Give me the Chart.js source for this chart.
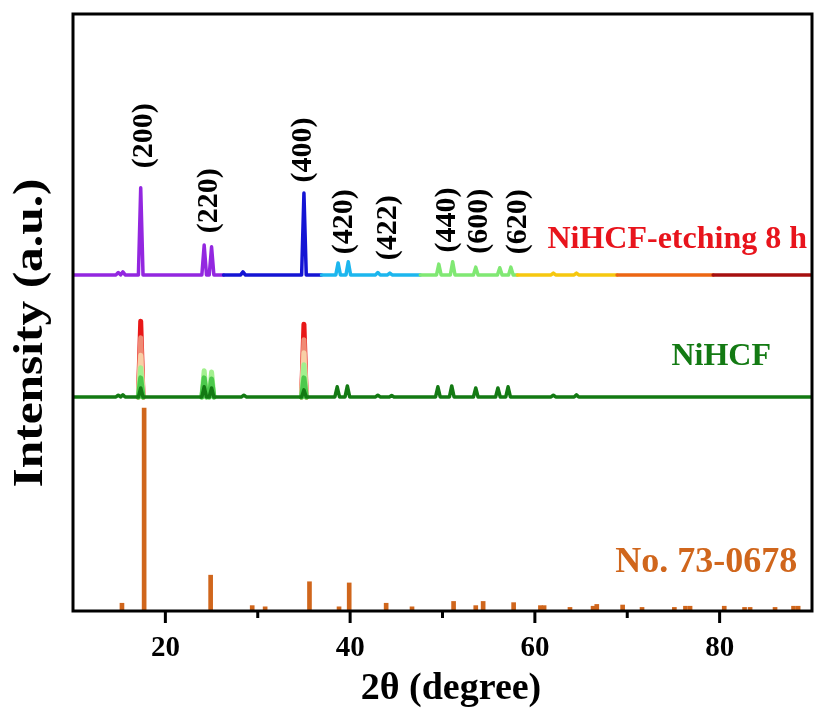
<!DOCTYPE html>
<html>
<head>
<meta charset="utf-8">
<script src="https://cdn.jsdelivr.net/npm/chart.js@4.4.1/dist/chart.umd.min.js"></script>
<style>
  html, body { margin: 0; padding: 0; background: #fff; }
  #wrap { width: 815px; height: 713px; }
</style>
</head>
<body>
<div id="wrap"><canvas id="xrd"></canvas></div>
<script>
// axis range + ticks
const xMin = 10, xMax = 90;
const xMajorTicks = [20, 40, 60, 80];
const xMinorTicks = [30, 50, 70];

// NiHCF-etching 8 h : peak 2θ and height above its own baseline
const etchPos = [14.9, 15.4, 17.33, 24.2, 25.0, 28.4, 35.0, 38.7, 39.8, 43.0, 44.3, 49.6, 51.1, 53.6, 56.2, 57.4, 62.0, 64.5];
const etchInt = [0.4, 0.5, 14.6, 5.0, 4.7, 0.5, 13.7, 2.0, 2.2, 0.4, 0.3, 1.8, 2.2, 1.3, 1.2, 1.3, 0.3, 0.3];
const etchOffset = 56.3;
// colour bands along the top curve (upper 2θ limit of each band)
const etchBandEnds = [26.3, 36.9, 47.6, 58.1, 68.9, 79.3, 90];
const etchBandColors = ['#9327e0', '#1414d4', '#1cb6ee', '#80e873', '#f6c80f', '#ec6613', '#a60f0f'];

// NiHCF
const nihcfPos = [14.9, 15.4, 17.33, 24.2, 25.0, 28.5, 35.0, 38.6, 39.7, 43.0, 44.5, 49.5, 51.0, 53.6, 56.0, 57.1, 62.0, 64.5];
const nihcfInt = [0.3, 0.35, 1.5, 1.7, 1.5, 0.3, 1.2, 1.7, 1.85, 0.3, 0.25, 1.7, 1.85, 1.5, 1.5, 1.7, 0.3, 0.35];
const nihcfOffset = 35.85;
// coloured peak tops stacked behind the NiHCF curve
const capPos = [17.33, 24.2, 25.0, 35.0];
const capMidGreen = [3.2, 3.2, 3.0, 3.2];
const capLightGreen = [4.9, 4.4, 4.2, 5.4];
const capPeach = [7.0, null, null, 7.4];
const capSalmon = [9.9, null, null, 9.6];
const capRed = [12.7, null, null, 12.2];

// reference card No. 73-0678
const refPos = [15.3, 17.7, 24.9, 29.4, 30.8, 35.6, 38.8, 39.9, 43.9, 46.7, 51.2, 53.6, 54.4, 57.7, 60.6, 61.0, 63.8, 66.3, 66.7, 69.5, 71.6, 75.1, 76.3, 76.8, 80.5, 82.7, 83.3, 86.0, 88.0, 88.5];
const refInt = [1.3, 34.0, 6.0, 0.9, 0.7, 4.9, 0.7, 4.7, 1.3, 0.7, 1.6, 0.9, 1.6, 1.4, 0.9, 0.9, 0.6, 0.8, 1.1, 1.0, 0.6, 0.6, 0.8, 0.8, 0.8, 0.6, 0.6, 0.6, 0.8, 0.8];

// hkl labels (2θ and height of the label centre)
const hklText = ['(200)', '(220)', '(400)', '(420)', '(422)', '(440)', '(600)', '(620)'];
const hklPos = [17.69, 24.72, 34.9, 39.34, 44.1, 50.5, 53.95, 58.2];
const hklHeight = [79.6, 68.7, 77.2, 65.2, 64.2, 65.5, 65.3, 65.2];

const SERIF = '"Liberation Serif", "Times New Roman", serif';
const halfW = 0.25;

// baseline + triangular peaks
function buildLine(pos, ints, offset, extraX) {
  const pts = [{x: xMin, y: offset}, {x: xMax, y: offset}];
  (extraX || []).forEach(x => pts.push({x: x, y: offset}));
  pos.forEach((p, i) => {
    pts.push({x: p - halfW, y: offset});
    pts.push({x: p, y: offset + ints[i]});
    pts.push({x: p + halfW, y: offset});
  });
  pts.sort((a, b) => a.x - b.x);
  return pts;
}
// only the peaks, broken between them
function buildCaps(vals, offset) {
  const pts = [];
  capPos.forEach((p, i) => {
    if (vals[i] == null) return;
    pts.push({x: p - halfW, y: offset});
    pts.push({x: p, y: offset + vals[i]});
    pts.push({x: p + halfW, y: offset});
    pts.push({x: p + halfW + 0.01, y: null});
  });
  return pts;
}
function bandColor(x) {
  for (let i = 0; i < etchBandEnds.length; i++) {
    if (x < etchBandEnds[i]) return etchBandColors[i];
  }
  return etchBandColors[etchBandColors.length - 1];
}

const lineStyle = {
  type: 'line', pointRadius: 0, tension: 0, borderWidth: 3.5,
  borderJoinStyle: 'round', borderCapStyle: 'round', fill: false
};
const capStyle = Object.assign({}, lineStyle, { borderWidth: 5 });

const frameAndText = {
  id: 'frameAndText',
  afterDraw(chart) {
    const {ctx, chartArea: a, scales: {x, y}} = chart;
    ctx.save();
    // frame
    ctx.strokeStyle = '#000';
    ctx.lineWidth = 3;
    ctx.strokeRect(a.left, a.top, a.right - a.left, a.bottom - a.top);
    // bottom ticks
    ctx.beginPath();
    xMajorTicks.forEach(v => {
      const px = x.getPixelForValue(v);
      ctx.moveTo(px, a.bottom);
      ctx.lineTo(px, a.bottom + 12);
    });
    xMinorTicks.forEach(v => {
      const px = x.getPixelForValue(v);
      ctx.moveTo(px, a.bottom);
      ctx.lineTo(px, a.bottom + 7);
    });
    ctx.stroke();

    // hkl labels
    ctx.fillStyle = '#000';
    ctx.font = 'bold 30px ' + SERIF;
    ctx.textAlign = 'center';
    ctx.textBaseline = 'middle';
    hklText.forEach((t, i) => {
      ctx.save();
      ctx.translate(x.getPixelForValue(hklPos[i]), y.getPixelForValue(hklHeight[i]));
      ctx.rotate(-Math.PI / 2);
      ctx.fillText(t, 0, 0);
      ctx.restore();
    });

    // series names
    ctx.textAlign = 'right';
    ctx.textBaseline = 'alphabetic';
    ctx.font = 'bold 32px ' + SERIF;
    ctx.fillStyle = '#e8141c';
    ctx.fillText('NiHCF-etching 8 h', x.getPixelForValue(89.46), y.getPixelForValue(60.8));
    ctx.fillStyle = '#137a13';
    ctx.fillText('NiHCF', x.getPixelForValue(85.56), y.getPixelForValue(41.2));
    ctx.font = 'bold 36px ' + SERIF;
    ctx.fillStyle = '#d0661c';
    ctx.fillText('No. 73-0678', x.getPixelForValue(88.4), y.getPixelForValue(6.5));

    // axis titles
    ctx.fillStyle = '#000';
    ctx.textAlign = 'center';
    ctx.textBaseline = 'middle';
    ctx.font = 'bold 38px ' + SERIF;
    ctx.fillText('2θ (degree)', 451, 689);
    ctx.font = 'bold 43px ' + SERIF;
    ctx.translate(31, 333);
    ctx.rotate(-Math.PI / 2);
    ctx.scale(1.15, 1);
    ctx.fillText('Intensity (a.u.)', 0, 0);
    ctx.restore();
  }
};

const ctx = document.getElementById('xrd').getContext('2d');
new Chart(ctx, {
  type: 'line',
  data: {
    datasets: [
      Object.assign({}, lineStyle, {
        label: 'NiHCF-etching 8 h',
        data: buildLine(etchPos, etchInt, etchOffset, etchBandEnds.slice(0, -1)),
        borderColor: etchBandColors[0],
        segment: { borderColor: c => bandColor(c.p0.parsed.x) }
      }),
      Object.assign({}, lineStyle, {
        label: 'NiHCF', data: buildLine(nihcfPos, nihcfInt, nihcfOffset), borderColor: '#137a13'
      }),
      Object.assign({}, capStyle, { label: 'cap1', data: buildCaps(capMidGreen, nihcfOffset), borderColor: '#4cc94c' }),
      Object.assign({}, capStyle, { label: 'cap2', data: buildCaps(capLightGreen, nihcfOffset), borderColor: '#a2f08e' }),
      Object.assign({}, capStyle, { label: 'cap3', data: buildCaps(capPeach, nihcfOffset), borderColor: '#f8cfa6' }),
      Object.assign({}, capStyle, { label: 'cap4', data: buildCaps(capSalmon, nihcfOffset), borderColor: '#f08a74' }),
      Object.assign({}, capStyle, { label: 'cap5', data: buildCaps(capRed, nihcfOffset), borderColor: '#e81818' }),
      {
        type: 'bar',
        label: 'No. 73-0678',
        data: refPos.map((p, i) => ({x: p, y: refInt[i]})),
        backgroundColor: '#d0661c',
        barThickness: 4,
        borderWidth: 0
      }
    ]
  },
  options: {
    responsive: true,
    maintainAspectRatio: false,
    animation: false,
    events: [],
    layout: { padding: { top: 14, right: 3, left: 0, bottom: 0 } },
    plugins: { legend: { display: false }, tooltip: { enabled: false } },
    scales: {
      x: {
        type: 'linear', min: xMin, max: xMax, offset: false,
        afterBuildTicks: axis => { axis.ticks = xMajorTicks.map(v => ({value: v})); },
        afterFit: scale => { scale.height = 102; },
        grid: { display: false, drawTicks: false },
        border: { display: false },
        ticks: { padding: 20, color: '#000', font: { family: SERIF, size: 29, weight: 'bold' } }
      },
      y: {
        type: 'linear', min: 0, max: 100,
        afterFit: scale => { scale.width = 73; },
        grid: { display: false, drawTicks: false },
        border: { display: false },
        ticks: { display: false }
      }
    }
  },
  plugins: [frameAndText]
});
</script>
</body>
</html>
